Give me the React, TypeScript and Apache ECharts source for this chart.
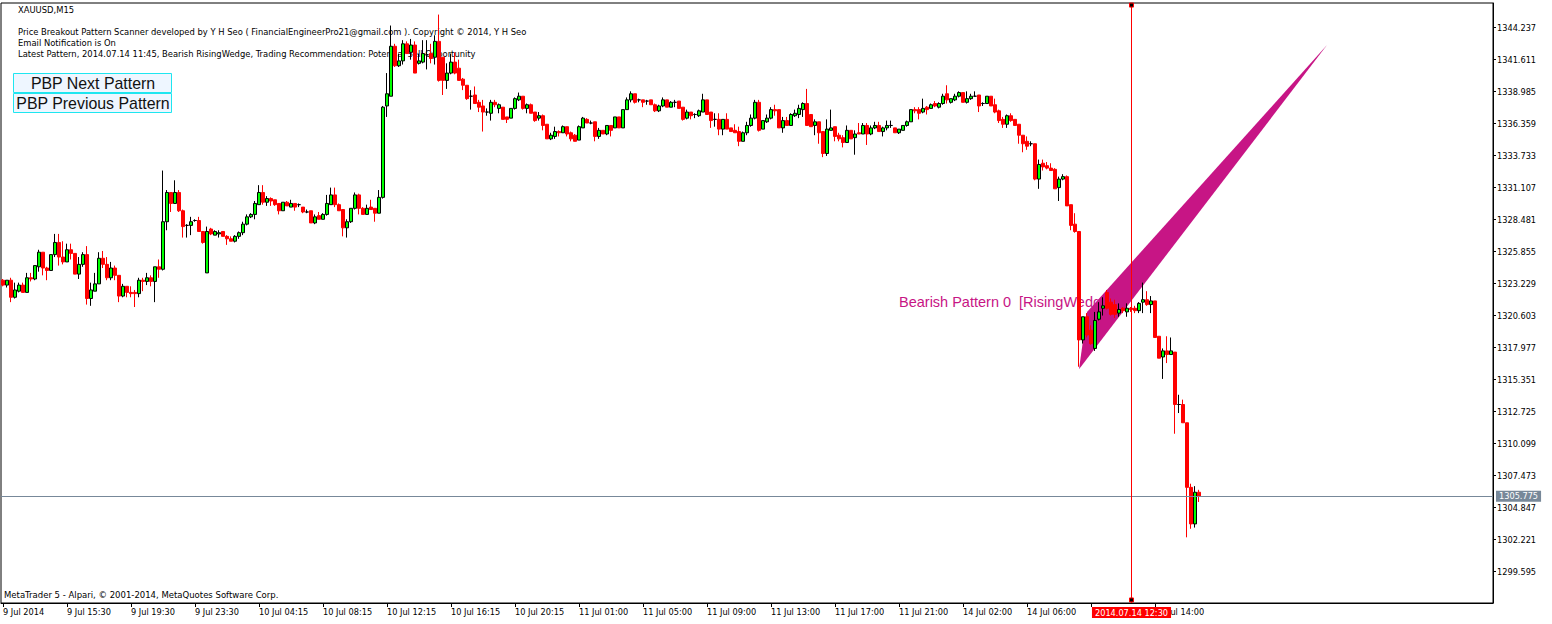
import React, { useEffect, useRef } from "react";
import * as echarts from "echarts";

// ---------- data ----------
const symbolTitle = "XAUUSD,M15";
const infoLines = [
  "Price Breakout Pattern Scanner developed by Y H Seo ( FinancialEngineerPro21@gmail.com ). Copyright \u00a9 2014, Y H Seo",
  "Email Notification is On",
  "Latest Pattern, 2014.07.14 11:45, Bearish RisingWedge, Trading Recommendation: Potential Sell Opportunity",
];
const buttonLabels = ["PBP Next Pattern", "PBP Previous Pattern"];
const footerText = "MetaTrader 5 - Alpari, \u00a9 2001-2014, MetaQuotes Software Corp.";

// "14 Jul 10:00" sits under the red time marker, as in the reference
const tickLabels = [
  "9 Jul 2014", "9 Jul 15:30", "9 Jul 19:30", "9 Jul 23:30", "10 Jul 04:15", "10 Jul 08:15",
  "10 Jul 12:15", "10 Jul 16:15", "10 Jul 20:15", "11 Jul 01:00", "11 Jul 05:00", "11 Jul 09:00",
  "11 Jul 13:00", "11 Jul 17:00", "11 Jul 21:00", "14 Jul 02:00", "14 Jul 06:00", "",
  "14 Jul 14:00",
];
const TICK_STEP = 16;
const SLOT_COUNT = 373;

const priceTicks = [
  1344.237, 1341.611, 1338.985, 1336.359, 1333.733, 1331.107, 1328.481, 1325.855, 1323.229,
  1320.603, 1317.977, 1315.351, 1312.725, 1310.099, 1307.473, 1304.847, 1302.221, 1299.595,
];
const Y_MIN = 1297.01;
const Y_MAX = 1346.25;

const bidPrice = 1305.775;
const markerIndex = 282;
const markerLabel = "2014.07.14 12:30";
const markerEnds = [1346.08, 1297.26];

const patternText = "Bearish Pattern 0  [RisingWedge]";
const patternLabelAnchor = [224.1, 1321.7];
const wedgePoints = [
  [268.8, 1316.2],
  [270.6, 1320.9],
  [330.8, 1342.8],
];

// [open, close, low, high]
const ohlc = [
  [1323.5, 1323.1, 1323.0, 1323.6], [1323.1, 1323.5, 1322.9, 1323.5], [1323.5, 1322.1, 1321.7, 1323.7],
  [1322.1, 1322.7, 1322.0, 1323.3], [1322.6, 1323.1, 1322.5, 1323.3], [1323.1, 1322.5, 1322.5, 1323.3],
  [1322.5, 1323.7, 1322.5, 1324.1], [1323.7, 1323.6, 1323.4, 1324.1], [1323.6, 1324.7, 1323.5, 1324.7],
  [1324.6, 1325.8, 1324.2, 1326.0], [1325.8, 1324.5, 1323.9, 1325.8], [1324.5, 1324.3, 1323.5, 1324.6],
  [1324.3, 1325.6, 1324.3, 1325.6], [1325.6, 1326.6, 1325.4, 1327.3], [1326.6, 1325.4, 1324.7, 1327.3],
  [1325.4, 1325.0, 1324.8, 1326.7], [1325.0, 1326.0, 1325.0, 1326.5], [1326.0, 1325.7, 1325.2, 1326.5],
  [1325.7, 1324.0, 1324.0, 1325.7], [1324.0, 1324.8, 1323.6, 1325.4], [1324.8, 1325.6, 1324.6, 1325.8],
  [1325.6, 1322.0, 1321.5, 1326.3], [1322.0, 1322.7, 1321.4, 1323.3], [1322.6, 1323.2, 1322.6, 1324.1],
  [1323.2, 1325.3, 1323.2, 1325.8], [1325.3, 1324.8, 1324.5, 1325.9], [1324.8, 1323.7, 1323.5, 1325.4],
  [1323.7, 1324.5, 1323.5, 1325.0], [1324.5, 1323.9, 1323.5, 1324.7], [1323.9, 1322.2, 1321.7, 1323.9],
  [1322.2, 1323.0, 1322.1, 1323.2], [1323.0, 1322.5, 1322.1, 1323.0], [1322.5, 1322.4, 1322.1, 1323.0],
  [1322.5, 1322.4, 1321.3, 1322.7], [1322.4, 1323.5, 1322.1, 1323.7], [1323.5, 1323.4, 1322.6, 1323.7],
  [1323.4, 1323.7, 1323.1, 1324.1], [1323.7, 1323.4, 1323.0, 1323.9], [1323.4, 1324.6, 1321.7, 1324.6],
  [1324.6, 1324.4, 1323.7, 1325.2], [1324.4, 1328.3, 1324.3, 1332.5], [1328.3, 1330.7, 1327.6, 1330.9],
  [1330.7, 1329.8, 1329.1, 1330.7], [1329.8, 1330.7, 1329.8, 1331.7], [1330.7, 1329.2, 1329.1, 1330.9],
  [1329.2, 1327.9, 1327.0, 1329.3], [1328.0, 1328.0, 1327.0, 1328.1], [1328.0, 1328.3, 1327.2, 1328.7],
  [1328.4, 1328.4, 1328.3, 1328.5], [1328.4, 1327.5, 1327.5, 1328.7], [1327.5, 1326.6, 1326.5, 1327.5],
  [1324.1, 1327.5, 1324.1, 1327.9], [1327.7, 1327.3, 1327.2, 1327.8], [1327.2, 1327.5, 1327.2, 1327.6],
  [1327.3, 1327.4, 1327.0, 1327.6], [1327.5, 1327.1, 1327.1, 1327.5], [1327.1, 1326.9, 1326.4, 1327.2],
  [1326.9, 1326.7, 1326.7, 1327.1], [1326.7, 1327.1, 1326.6, 1327.2], [1327.1, 1327.4, 1326.9, 1327.5],
  [1327.4, 1328.1, 1327.2, 1328.3], [1328.1, 1328.7, 1328.0, 1328.9], [1328.7, 1328.9, 1328.6, 1329.0],
  [1328.9, 1329.8, 1328.5, 1330.0], [1329.7, 1330.7, 1329.7, 1331.3], [1330.7, 1329.9, 1329.7, 1331.3],
  [1329.9, 1330.2, 1329.6, 1330.4], [1330.2, 1330.0, 1329.6, 1330.3], [1330.1, 1329.7, 1329.6, 1330.1],
  [1329.8, 1329.2, 1328.9, 1329.8], [1329.2, 1329.9, 1329.2, 1329.9], [1329.9, 1329.6, 1329.6, 1330.0],
  [1329.5, 1329.8, 1329.5, 1330.1], [1329.8, 1329.5, 1329.2, 1329.8], [1329.7, 1329.7, 1329.5, 1329.8],
  [1329.5, 1329.1, 1329.0, 1329.5], [1329.1, 1329.1, 1329.0, 1329.3], [1329.2, 1328.2, 1328.2, 1329.2],
  [1328.2, 1328.7, 1328.1, 1328.9], [1328.8, 1328.5, 1328.5, 1329.1], [1328.5, 1328.9, 1328.5, 1329.0],
  [1328.9, 1329.8, 1328.8, 1330.5], [1329.7, 1330.5, 1329.7, 1331.1], [1330.5, 1329.7, 1329.5, 1331.1],
  [1329.7, 1329.2, 1329.2, 1329.8], [1329.3, 1327.8, 1327.1, 1329.3], [1327.8, 1328.3, 1327.0, 1328.5],
  [1328.3, 1329.4, 1328.2, 1329.4], [1329.4, 1330.5, 1329.3, 1330.7], [1330.5, 1329.4, 1328.9, 1330.6],
  [1329.4, 1328.9, 1328.9, 1329.5], [1328.9, 1329.4, 1328.9, 1329.7], [1329.5, 1329.3, 1329.3, 1330.1],
  [1329.4, 1329.0, 1328.3, 1329.4], [1329.0, 1330.3, 1329.0, 1330.9], [1330.3, 1337.7, 1330.2, 1337.8],
  [1337.8, 1338.8, 1336.9, 1340.5], [1338.6, 1342.7, 1338.6, 1344.4], [1342.7, 1341.1, 1341.0, 1342.9],
  [1341.1, 1341.5, 1341.0, 1342.1], [1341.5, 1342.9, 1341.2, 1343.2], [1342.9, 1342.1, 1342.1, 1343.1],
  [1342.2, 1342.8, 1341.6, 1343.3], [1342.8, 1340.5, 1340.5, 1343.1], [1341.3, 1341.5, 1341.2, 1342.1],
  [1341.4, 1342.1, 1341.3, 1343.2], [1342.0, 1342.0, 1340.8, 1343.2], [1342.1, 1341.7, 1341.3, 1342.9],
  [1341.8, 1343.1, 1341.2, 1343.6], [1343.1, 1339.9, 1339.8, 1345.3], [1341.8, 1339.9, 1338.7, 1341.8],
  [1339.9, 1340.5, 1339.2, 1341.3], [1340.5, 1341.4, 1340.4, 1342.1], [1341.4, 1340.5, 1340.4, 1342.2],
  [1340.9, 1339.9, 1339.9, 1341.6], [1340.0, 1339.5, 1339.1, 1340.1], [1339.5, 1338.4, 1338.3, 1339.5],
  [1338.6, 1338.6, 1337.5, 1339.1], [1338.7, 1338.0, 1338.0, 1339.4], [1338.1, 1337.7, 1337.3, 1338.3],
  [1337.8, 1337.3, 1335.7, 1338.3], [1337.3, 1337.3, 1337.0, 1337.6], [1337.2, 1338.1, 1336.6, 1338.3],
  [1338.1, 1337.9, 1337.7, 1338.3], [1337.6, 1337.9, 1337.2, 1338.0], [1337.7, 1336.7, 1336.7, 1337.7],
  [1336.9, 1336.7, 1336.4, 1336.9], [1336.8, 1337.6, 1336.8, 1337.6], [1337.6, 1338.4, 1337.5, 1338.5],
  [1338.3, 1338.6, 1338.2, 1338.9], [1338.6, 1337.6, 1337.5, 1338.6], [1337.6, 1337.9, 1337.2, 1338.0],
  [1337.9, 1337.2, 1337.2, 1338.0], [1337.3, 1336.6, 1336.5, 1337.3], [1336.8, 1337.0, 1336.6, 1337.3],
  [1337.0, 1336.2, 1335.8, 1337.1], [1336.3, 1335.1, 1335.1, 1336.3], [1335.1, 1335.4, 1335.0, 1335.6],
  [1335.3, 1335.7, 1335.1, 1336.1], [1335.7, 1335.6, 1335.3, 1335.8], [1335.6, 1336.1, 1335.6, 1336.2],
  [1336.1, 1335.5, 1335.3, 1336.1], [1335.6, 1335.1, 1334.9, 1335.7], [1335.4, 1334.9, 1334.9, 1335.5],
  [1335.0, 1336.1, 1335.0, 1336.2], [1336.0, 1336.8, 1336.0, 1336.9], [1336.7, 1336.4, 1336.4, 1336.8],
  [1336.4, 1336.4, 1336.3, 1336.6], [1336.5, 1335.3, 1334.9, 1336.5], [1335.3, 1335.8, 1335.1, 1336.0],
  [1335.8, 1335.5, 1335.5, 1335.8], [1335.5, 1336.2, 1335.4, 1336.2], [1336.2, 1335.8, 1335.3, 1336.2],
  [1336.0, 1336.9, 1336.0, 1336.9], [1336.9, 1336.0, 1336.0, 1336.9], [1336.0, 1337.5, 1336.0, 1337.5],
  [1337.5, 1338.3, 1337.5, 1338.5], [1338.3, 1338.8, 1338.1, 1339.0], [1338.8, 1338.1, 1338.0, 1338.8],
  [1338.3, 1338.3, 1338.1, 1338.4], [1338.3, 1338.1, 1337.7, 1338.3], [1338.2, 1338.2, 1337.9, 1338.3],
  [1338.3, 1337.9, 1337.9, 1338.3], [1337.9, 1337.4, 1337.3, 1338.0], [1337.4, 1337.8, 1337.3, 1337.9],
  [1337.8, 1338.3, 1337.7, 1338.5], [1338.3, 1337.7, 1337.7, 1338.3], [1337.7, 1338.1, 1337.7, 1338.2],
  [1338.1, 1338.1, 1337.7, 1338.3], [1338.2, 1337.6, 1337.6, 1338.2], [1337.7, 1336.7, 1336.6, 1337.7],
  [1336.8, 1337.3, 1336.7, 1337.5], [1337.3, 1337.0, 1336.7, 1337.3], [1337.1, 1337.1, 1336.8, 1337.2],
  [1337.0, 1337.4, 1336.9, 1337.5], [1337.3, 1338.3, 1337.3, 1338.8], [1338.3, 1337.1, 1337.1, 1338.3],
  [1337.3, 1336.6, 1336.0, 1337.3], [1336.7, 1336.7, 1336.1, 1337.2], [1336.7, 1335.9, 1335.4, 1337.2],
  [1335.9, 1336.7, 1335.4, 1336.7], [1336.7, 1335.9, 1335.9, 1337.2], [1336.0, 1335.7, 1335.7, 1336.0],
  [1335.8, 1335.6, 1335.6, 1336.3], [1335.7, 1334.9, 1334.5, 1336.1], [1334.9, 1335.6, 1334.9, 1335.7],
  [1335.6, 1336.2, 1335.4, 1336.5], [1336.2, 1336.8, 1336.1, 1337.1], [1336.8, 1338.1, 1336.7, 1338.3],
  [1338.1, 1335.8, 1335.7, 1338.3], [1335.9, 1336.6, 1335.9, 1336.6], [1336.5, 1336.8, 1336.4, 1337.1],
  [1336.8, 1337.5, 1336.7, 1337.7], [1337.5, 1337.4, 1337.0, 1337.9], [1337.5, 1336.0, 1336.0, 1337.5],
  [1336.0, 1336.6, 1335.6, 1336.9], [1336.6, 1336.2, 1336.2, 1336.9], [1336.2, 1337.1, 1336.2, 1337.2],
  [1337.0, 1337.2, 1336.9, 1337.5], [1337.1, 1337.6, 1336.8, 1337.9], [1337.5, 1338.0, 1336.9, 1338.1],
  [1338.0, 1336.2, 1336.2, 1339.2], [1337.1, 1336.1, 1336.1, 1337.1], [1336.2, 1336.5, 1335.4, 1336.7],
  [1336.5, 1335.6, 1334.7, 1336.5], [1335.7, 1333.9, 1333.6, 1335.7], [1333.9, 1335.9, 1333.7, 1336.7],
  [1335.8, 1336.0, 1335.8, 1337.5], [1336.1, 1335.3, 1334.9, 1336.1], [1335.4, 1335.1, 1334.9, 1335.6],
  [1335.2, 1334.8, 1334.4, 1335.4], [1334.8, 1335.8, 1334.8, 1336.2], [1335.8, 1335.1, 1335.1, 1335.8],
  [1335.2, 1335.5, 1333.8, 1335.8], [1335.6, 1335.5, 1335.5, 1336.4], [1335.5, 1336.2, 1335.5, 1336.4],
  [1336.2, 1335.5, 1334.6, 1336.4], [1335.5, 1336.0, 1335.4, 1336.2], [1336.0, 1336.2, 1335.9, 1336.5],
  [1336.2, 1335.7, 1335.7, 1336.5], [1335.7, 1336.0, 1335.3, 1336.1], [1336.0, 1336.2, 1335.8, 1336.6],
  [1336.2, 1336.2, 1336.0, 1336.6], [1336.0, 1335.6, 1335.6, 1336.0], [1335.6, 1335.9, 1335.5, 1335.9],
  [1335.8, 1336.2, 1335.8, 1336.2], [1336.2, 1336.5, 1336.1, 1336.6], [1336.5, 1337.5, 1336.5, 1337.5],
  [1337.5, 1337.4, 1337.2, 1337.7], [1337.5, 1337.2, 1336.7, 1337.7], [1337.3, 1337.6, 1337.2, 1338.4],
  [1337.7, 1337.5, 1337.1, 1337.8], [1337.6, 1337.9, 1337.6, 1338.0], [1338.0, 1337.8, 1337.7, 1338.2],
  [1337.7, 1338.0, 1337.6, 1338.1], [1338.0, 1338.6, 1337.9, 1338.8], [1338.8, 1338.3, 1338.0, 1339.5],
  [1338.1, 1338.4, 1338.0, 1338.4], [1338.3, 1338.6, 1338.2, 1338.8], [1338.6, 1338.9, 1338.5, 1339.0],
  [1338.9, 1338.1, 1338.1, 1338.9], [1338.1, 1338.4, 1338.0, 1339.0], [1338.4, 1338.6, 1338.3, 1338.8],
  [1338.6, 1338.6, 1338.6, 1339.0], [1338.7, 1337.8, 1337.3, 1338.7], [1338.0, 1338.0, 1337.8, 1338.1],
  [1338.0, 1338.6, 1338.0, 1338.6], [1338.6, 1337.8, 1337.8, 1338.6], [1337.9, 1337.3, 1337.2, 1338.4],
  [1337.4, 1336.6, 1336.4, 1337.5], [1336.7, 1336.3, 1336.0, 1336.9], [1336.3, 1337.0, 1336.0, 1337.1],
  [1337.0, 1336.6, 1336.5, 1337.2], [1336.7, 1336.2, 1336.2, 1336.7], [1336.3, 1335.4, 1334.7, 1336.3],
  [1335.4, 1334.7, 1334.0, 1335.4], [1334.9, 1334.5, 1334.2, 1335.3], [1334.7, 1334.7, 1334.5, 1334.9],
  [1334.7, 1331.8, 1331.7, 1334.7], [1331.8, 1333.0, 1331.0, 1333.4], [1333.1, 1332.8, 1332.5, 1333.4],
  [1332.9, 1332.7, 1332.6, 1333.2], [1332.7, 1332.5, 1332.5, 1333.1], [1332.6, 1331.0, 1331.0, 1332.7],
  [1331.1, 1331.8, 1330.0, 1332.0], [1331.8, 1332.0, 1331.7, 1332.2], [1332.0, 1329.6, 1329.6, 1332.1],
  [1329.7, 1328.0, 1327.6, 1329.7], [1328.1, 1327.5, 1327.4, 1329.0], [1327.5, 1318.6, 1316.4, 1327.5],
  [1318.6, 1320.5, 1318.3, 1320.5], [1320.5, 1319.0, 1318.8, 1320.8], [1319.4, 1318.3, 1318.2, 1319.8],
  [1317.9, 1320.2, 1317.7, 1320.9], [1320.3, 1320.9, 1320.2, 1321.7], [1321.2, 1321.4, 1320.6, 1322.1],
  [1322.5, 1321.2, 1321.1, 1322.7], [1321.7, 1320.7, 1320.6, 1322.0], [1321.5, 1320.7, 1320.4, 1321.9],
  [1320.8, 1321.1, 1320.5, 1321.6], [1321.2, 1321.0, 1320.8, 1321.3], [1320.9, 1321.2, 1320.5, 1321.6],
  [1321.2, 1321.1, 1320.9, 1321.3], [1321.2, 1321.0, 1320.8, 1321.4], [1321.0, 1321.6, 1320.8, 1321.7],
  [1321.7, 1321.9, 1320.8, 1323.3], [1321.9, 1321.5, 1321.4, 1322.6], [1321.5, 1321.8, 1320.8, 1322.2],
  [1321.8, 1318.8, 1318.8, 1321.8], [1318.9, 1317.1, 1317.1, 1318.9], [1317.2, 1317.7, 1315.4, 1317.9],
  [1317.7, 1317.4, 1316.7, 1318.9], [1317.4, 1317.7, 1317.4, 1318.8], [1317.6, 1313.3, 1310.9, 1317.6],
  [1313.3, 1313.3, 1312.6, 1314.1], [1313.3, 1311.8, 1311.8, 1313.7], [1311.8, 1306.5, 1302.4, 1311.8],
  [1306.5, 1303.5, 1303.1, 1306.8], [1303.5, 1306.1, 1303.2, 1306.6], [1306.1, 1305.775, 1305.3, 1306.3],
];

// ---------- styling ----------
const SMALL_FONT = "DejaVu Sans";
const AXIS_SIZE = 8.2;
const INFO_SIZE = 8.4;
const BULL = "#00ff00";
const BEAR = "#ff0000";
const WEDGE = "#c71585";
const BID = "#778899";
const MARKER = "#ff0000";

const categories = Array.from({ length: SLOT_COUNT }, (_, i) => String(i));
const isTick = (i: number) => i % TICK_STEP === 0 && i / TICK_STEP < tickLabels.length;

export default function App() {
  const ref = useRef<HTMLDivElement>(null);

  useEffect(() => {
    if (!ref.current) return;
    const chart = echarts.init(ref.current, null, { renderer: "svg" });

    const smallFont = (s: number) => `${s}px "${SMALL_FONT}"`;
    const graphicTexts: any[] = [
      {
        type: "text", x: 18, y: 9.5, z: 0,
        style: { text: symbolTitle, fill: "#000", font: smallFont(INFO_SIZE), verticalAlign: "middle" },
      },
      ...infoLines.map((t, k) => ({
        type: "text", x: 18, y: 31.5 + k * 11, z: 0,
        style: { text: t, fill: "#000", font: smallFont(INFO_SIZE), verticalAlign: "middle" },
      })),
      ...buttonLabels.flatMap((t, k) => [
        {
          type: "rect", z: 10,
          shape: { x: 13.5, y: 73.5 + k * 20, width: 158, height: 19 },
          style: { fill: "#eef6ff", stroke: "#1ee6f0", lineWidth: 1 },
        },
        {
          type: "text", x: 93, y: 83.5 + k * 20, z: 11,
          style: { text: t, fill: "#111", font: '15.9px "Liberation Sans"', align: "center", verticalAlign: "middle" },
        },
      ]),
      {
        type: "text", x: 4, y: 595, z: 0,
        style: { text: footerText, fill: "#000", font: smallFont(8.5), verticalAlign: "middle" },
      },
    ];

    const option: any = {
      animation: false,
      backgroundColor: "#ffffff",
      grid: {
        left: 1, right: 59, top: 3, bottom: 21,
        show: true, borderColor: "#000", borderWidth: 1, backgroundColor: "transparent",
      },
      xAxis: {
        type: "category",
        data: categories,
        boundaryGap: true,
        axisLine: { show: true, lineStyle: { color: "#000", width: 1 } },
        axisTick: {
          show: true, alignWithLabel: true, length: 4,
          interval: (i: number) => isTick(i),
          lineStyle: { color: "#000" },
        },
        axisLabel: {
          interval: (i: number) => isTick(i),
          formatter: (_v: string, i: number) => (isTick(i) ? tickLabels[i / TICK_STEP] : ""),
          align: "left", margin: 5, color: "#000",
          fontSize: AXIS_SIZE, fontFamily: SMALL_FONT,
        },
        splitLine: { show: false },
      },
      yAxis: {
        type: "value",
        position: "right",
        min: Y_MIN, max: Y_MAX,
        axisLine: { show: true, lineStyle: { color: "#000" } },
        axisTick: { show: true, length: 3, customValues: priceTicks, lineStyle: { color: "#000" } },
        axisLabel: {
          customValues: priceTicks,
          formatter: (v: number) => v.toFixed(3),
          margin: 4, color: "#000", fontSize: AXIS_SIZE, fontFamily: SMALL_FONT,
        },
        splitLine: { show: false },
      },
      graphic: { elements: graphicTexts },
      series: [
        {
          // pattern wedge + its label (under the candles)
          type: "custom",
          z: 1,
          silent: true,
          clip: false,
          data: [[0, bidPrice]],
          renderItem: (_p: any, api: any) => {
            const pts = wedgePoints.map((p) => api.coord(p));
            const a = api.coord(patternLabelAnchor);
            return {
              type: "group",
              children: [
                {
                  type: "text", x: a[0], y: a[1], z2: 0,
                  style: {
                    text: patternText, fill: WEDGE, font: '14.5px "Liberation Sans"',
                    align: "left", verticalAlign: "middle",
                  },
                },
                { type: "polygon", z2: 1, shape: { points: pts }, style: { fill: WEDGE } },
              ],
            };
          },
        },
        {
          type: "candlestick",
          z: 3,
          data: ohlc,
          barWidth: 3,
          itemStyle: {
            color: BULL, color0: BEAR,
            borderColor: "#000", borderColor0: BEAR, borderColorDoji: "#000",
            borderWidth: 1,
          },
        },
        {
          // price line (bid)
          type: "line",
          z: 4,
          silent: true,
          data: [],
          color: BID,
          markLine: {
            silent: true,
            symbol: ["none", "none"],
            animation: false,
            lineStyle: { color: BID, width: 1, type: "solid" },
            data: [
              {
                yAxis: bidPrice,
                label: {
                  show: true, position: "end", distance: 3,
                  formatter: bidPrice.toFixed(3),
                  color: "#fff", backgroundColor: BID, padding: [2, 3, 1, 3],
                  fontSize: AXIS_SIZE, fontFamily: SMALL_FONT,
                },
              },
            ],
          },
        },
        {
          // time marker: vertical red line, end squares and time label
          type: "custom",
          z: 6,
          silent: true,
          clip: false,
          data: [[markerIndex, bidPrice]],
          renderItem: (_p: any, api: any) => {
            const top = api.coord([markerIndex, Y_MAX]);
            const bottom = api.coord([markerIndex, Y_MIN]);
            const x = Math.round(top[0]) + 0.5;
            const ends = markerEnds.map((p) => api.coord([markerIndex, p]));
            return {
              type: "group",
              children: [
                {
                  type: "line",
                  shape: { x1: x, y1: top[1], x2: x, y2: bottom[1] },
                  style: { stroke: MARKER, lineWidth: 1 },
                },
                ...ends.map((e: number[]) => ({
                  type: "rect",
                  shape: { x: x - 2, y: e[1] - 2, width: 4, height: 4 },
                  style: { fill: "#000", stroke: MARKER, lineWidth: 1 },
                })),
                {
                  type: "text",
                  x: x,
                  y: bottom[1] + 4,
                  style: {
                    text: markerLabel, fill: "#fff", backgroundColor: MARKER,
                    padding: [2, 3, 1, 3], font: `${AXIS_SIZE}px "${SMALL_FONT}"`,
                    align: "center", verticalAlign: "top",
                  },
                },
              ],
            };
          },
        },
      ],
    };

    chart.setOption(option);
    return () => chart.dispose();
  }, []);

  return (
    <div
      ref={ref}
      style={{ position: "fixed", left: 0, top: 0, width: 1552, height: 624, background: "#fff" }}
    />
  );
}
